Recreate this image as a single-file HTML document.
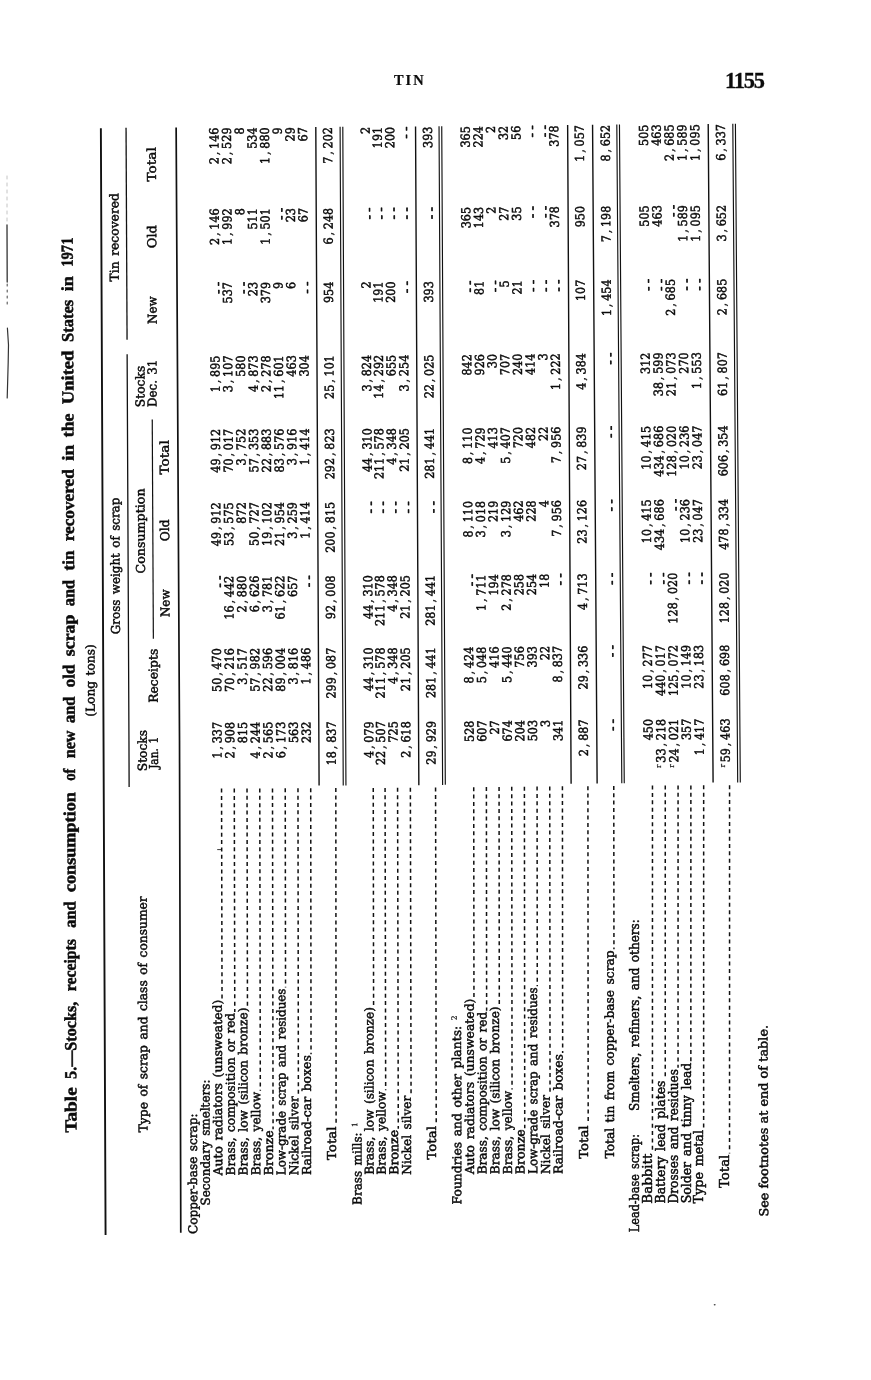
<!DOCTYPE html>
<html lang="en">
<head>
<meta charset="utf-8">
<title>Table 5. Stocks, receipts and consumption of new and old scrap and tin recovered in the United States in 1971</title>
<style>
html,body{margin:0;padding:0;background:#fff;}
body{width:871px;height:1380px;overflow:hidden;}
svg{display:block;position:absolute;left:0;top:0;}
svg{font-family:"Liberation Serif","DejaVu Serif",serif;}
text{white-space:pre;}
.b{font-family:"DejaVu Serif","Liberation Serif",serif;}
.b{font-size:12.3px;fill:#0b0b0b;stroke:#0b0b0b;stroke-width:0.48px;stroke-linejoin:round;}
.l{letter-spacing:0.0px;word-spacing:1.6px;}
.n{font-size:12.4px;stroke-width:0.5px;text-anchor:end;}
.d{font-family:"Liberation Serif",serif;font-size:12.5px;letter-spacing:3.55px;text-anchor:end;stroke-width:0.7px;stroke:#0b0b0b;}
.sup{font-size:7.5px;letter-spacing:0;stroke-width:0.2px;}
.c{stroke-width:0.35px;}
.ttl{font-weight:bold;font-size:16.9px;fill:#0b0b0b;stroke:#0b0b0b;stroke-width:0.5px;}
.ft{font-weight:bold;font-size:13px;fill:#0b0b0b;stroke:#0b0b0b;stroke-width:0.15px;}
.rl{stroke:#111;fill:none;}
.ld{stroke:#111;stroke-width:1.5px;stroke-dasharray:4 3.35;fill:none;}
.hd1{font-weight:bold;font-size:14.4px;letter-spacing:2.0px;fill:#0b0b0b;stroke:#0b0b0b;stroke-width:0.2px;}
.hd2{font-weight:bold;font-size:22.4px;letter-spacing:-1.2px;fill:#0b0b0b;stroke:#0b0b0b;stroke-width:0.3px;}
</style>
</head>
<body>
<svg width="871" height="1380" viewBox="0 0 871 1380">
<rect x="0" y="0" width="871" height="1380" fill="#ffffff"/>
<g fill="none" stroke-linecap="round">
<path d="M7,176 L7,224" stroke="#b5b5b5" stroke-width="0.8" stroke-dasharray="3 4"/>
<path d="M7,225 L7.2,282" stroke="#333" stroke-width="1.3"/>
<path d="M7.2,284 L7.2,305" stroke="#555" stroke-width="1.1" stroke-dasharray="2 4"/>
<path d="M7.4,328 Q9.2,345 8.2,362 L7.2,398" stroke="#333" stroke-width="1.2"/>
<path d="M217.6,849.6 L221.4,849.6" stroke="#222" stroke-width="0.9"/>
</g>
<ellipse cx="714.7" cy="1304.7" rx="1.0" ry="0.8" fill="#444"/>
<text class="hd1" x="394.0" y="85.3">TIN</text>
<text class="hd2" x="725.0" y="87.8">1155</text>
<g transform="translate(0,1381.45) rotate(-90.244)">
<g class="ttl">
<text x="248.6" y="77.6" textLength="45.2" lengthAdjust="spacingAndGlyphs">Table</text>
<text x="302.2" y="77.6" textLength="77.2" lengthAdjust="spacingAndGlyphs">5.—Stocks,</text>
<text x="389.8" y="77.6" textLength="52.3" lengthAdjust="spacingAndGlyphs">receipts</text>
<text x="453.4" y="77.6" textLength="26.3" lengthAdjust="spacingAndGlyphs">and</text>
<text x="489.1" y="77.6" textLength="99.9" lengthAdjust="spacingAndGlyphs">consumption</text>
<text x="600.3" y="77.6" textLength="12.2" lengthAdjust="spacingAndGlyphs">of</text>
<text x="622.9" y="77.6" textLength="27.7" lengthAdjust="spacingAndGlyphs">new</text>
<text x="658.2" y="77.6" textLength="26.3" lengthAdjust="spacingAndGlyphs">and</text>
<text x="693.9" y="77.6" textLength="22.6" lengthAdjust="spacingAndGlyphs">old</text>
<text x="725.0" y="77.6" textLength="41.4" lengthAdjust="spacingAndGlyphs">scrap</text>
<text x="774.9" y="77.6" textLength="26.4" lengthAdjust="spacingAndGlyphs">and</text>
<text x="810.7" y="77.6" textLength="19.8" lengthAdjust="spacingAndGlyphs">tin</text>
<text x="839.9" y="77.6" textLength="72.0" lengthAdjust="spacingAndGlyphs">recovered</text>
<text x="920.4" y="77.6" textLength="16.0" lengthAdjust="spacingAndGlyphs">in</text>
<text x="943.9" y="77.6" textLength="23.6" lengthAdjust="spacingAndGlyphs">the</text>
<text x="976.9" y="77.6" textLength="53.7" lengthAdjust="spacingAndGlyphs">United</text>
<text x="1039.1" y="77.6" textLength="42.3" lengthAdjust="spacingAndGlyphs">States</text>
<text x="1089.9" y="77.6" textLength="15.1" lengthAdjust="spacingAndGlyphs">in</text>
<text x="1114.4" y="77.6" textLength="29.2" lengthAdjust="spacingAndGlyphs">1971</text>
</g>
<text class="b l" x="664.3" y="97.5" textLength="72.5" lengthAdjust="spacingAndGlyphs">(Long tons)</text>
<polyline class="rl" stroke-width="1.90" points="146.0,106.19 200.0,106.20 640.0,106.26 1252.7,106.20"/>
<polyline class="rl" stroke-width="1.30" points="594.0,131.66 640.0,131.69 1026.6,131.50"/>
<polyline class="rl" stroke-width="1.30" points="1041.1,131.50 1253.2,131.39"/>
<polyline class="rl" stroke-width="1.20" points="742.0,156.53 961.3,156.34"/>
<polyline class="rl" stroke-width="1.70" points="148.0,181.41 200.0,181.50 640.0,182.25 1253.2,181.48"/>
<polyline class="rl" stroke-width="1.40" points="594.5,321.63 640.0,321.60 1253.2,321.14"/>
<polyline class="rl" stroke-width="1.15" points="594.5,345.77 640.0,345.75 1253.2,345.44"/>
<polyline class="rl" stroke-width="1.15" points="594.5,348.47 640.0,348.45 1253.2,348.14"/>
<polyline class="rl" stroke-width="1.40" points="594.5,421.38 640.0,421.35 1253.2,420.89"/>
<polyline class="rl" stroke-width="1.15" points="594.6,445.15 640.1,445.10 1253.3,444.38"/>
<polyline class="rl" stroke-width="1.15" points="594.7,447.85 640.2,447.80 1253.4,447.08"/>
<polyline class="rl" stroke-width="1.40" points="595.3,573.65 640.9,573.60 1254.0,572.99"/>
<polyline class="rl" stroke-width="1.40" points="595.5,599.67 641.0,599.55 1254.2,597.91"/>
<polyline class="rl" stroke-width="1.15" points="595.6,624.35 641.1,624.20 1254.3,622.16"/>
<polyline class="rl" stroke-width="1.15" points="595.6,626.79 641.1,626.65 1254.3,624.81"/>
<polyline class="rl" stroke-width="1.40" points="595.8,715.64 641.3,715.50 1254.5,713.56"/>
<polyline class="rl" stroke-width="1.15" points="595.8,740.24 641.3,740.10 1254.5,738.16"/>
<polyline class="rl" stroke-width="1.15" points="595.8,742.84 641.3,742.70 1254.5,740.76"/>
<text class="b l" transform="translate(248.50,148.55) rotate(0.058)" textLength="236.0" lengthAdjust="spacingAndGlyphs">Type of scrap and class of consumer</text>
<text class="b l" transform="translate(746.70,123.07) rotate(-0.020)" textLength="136.6" lengthAdjust="spacingAndGlyphs">Gross weight of scrap</text>
<text class="b l" transform="translate(1099.50,123.45) rotate(-0.021)" textLength="88.4" lengthAdjust="spacingAndGlyphs">Tin recovered</text>
<text class="b l" transform="translate(609.60,149.43) rotate(0.033)" textLength="41.3" lengthAdjust="spacingAndGlyphs">Stocks</text>
<text class="b l" transform="translate(611.90,160.52) rotate(0.047)" textLength="32.2" lengthAdjust="spacingAndGlyphs">Jan. 1</text>
<text class="b l" transform="translate(678.00,160.62) rotate(-0.053)" textLength="54.0" lengthAdjust="spacingAndGlyphs">Receipts</text>
<text class="b l" transform="translate(807.40,148.32) rotate(-0.042)" textLength="85.0" lengthAdjust="spacingAndGlyphs">Consumption</text>
<text class="b l" transform="translate(763.70,172.83) rotate(-0.063)" textLength="27.6" lengthAdjust="spacingAndGlyphs">New</text>
<text class="b l" transform="translate(839.50,172.74) rotate(-0.063)" textLength="21.8" lengthAdjust="spacingAndGlyphs">Old</text>
<text class="b l" transform="translate(906.10,172.67) rotate(-0.063)" textLength="34.4" lengthAdjust="spacingAndGlyphs">Total</text>
<text class="b l" transform="translate(973.70,148.70) rotate(-0.043)" textLength="41.3" lengthAdjust="spacingAndGlyphs">Stocks</text>
<text class="b l" transform="translate(973.70,160.75) rotate(-0.053)" textLength="47.5" lengthAdjust="spacingAndGlyphs">Dec. 31</text>
<text class="b l" transform="translate(1056.80,161.17) rotate(-0.054)" textLength="27.6" lengthAdjust="spacingAndGlyphs">New</text>
<text class="b l" transform="translate(1132.60,161.10) rotate(-0.054)" textLength="23.0" lengthAdjust="spacingAndGlyphs">Old</text>
<text class="b l" transform="translate(1199.20,161.04) rotate(-0.054)" textLength="34.4" lengthAdjust="spacingAndGlyphs">Total</text>
<g class="b">
<text class="l" transform="translate(146.60,197.86) rotate(0.103)" textLength="120.6" lengthAdjust="spacingAndGlyphs">Copper-base scrap:</text>
<text class="l" transform="translate(175.00,210.49) rotate(0.107)" textLength="126.0" lengthAdjust="spacingAndGlyphs">Secondary smelters:</text>
<text class="l" transform="translate(205.00,223.12) rotate(0.111)" textLength="175.8" lengthAdjust="spacingAndGlyphs">Auto radiators (unsweated)</text>
<line class="ld" x1="381.76" y1="223.66" x2="591.90" y2="224.07" stroke-dashoffset="7.01"/>
<text class="n" transform="translate(658.60,224.16) rotate(0.017) scale(0.907,1)">1<tspan class="c" dx="2.0">,</tspan><tspan dx="3.0">337</tspan></text>
<text class="n" transform="translate(732.40,224.09) rotate(-0.048) scale(0.907,1)">50<tspan class="c" dx="2.0">,</tspan><tspan dx="3.0">470</tspan></text>
<text class="d" transform="translate(808.45,226.53) rotate(-0.049)">--</text>
<text class="n" transform="translate(878.20,223.96) rotate(-0.048) scale(0.907,1)">49<tspan class="c" dx="2.0">,</tspan><tspan dx="3.0">912</tspan></text>
<text class="n" transform="translate(951.70,223.90) rotate(-0.048) scale(0.907,1)">49<tspan class="c" dx="2.0">,</tspan><tspan dx="3.0">912</tspan></text>
<text class="n" transform="translate(1025.00,223.84) rotate(-0.048) scale(0.907,1)">1<tspan class="c" dx="2.0">,</tspan><tspan dx="3.0">895</tspan></text>
<text class="d" transform="translate(1102.15,226.28) rotate(-0.049)">--</text>
<text class="n" transform="translate(1172.20,223.72) rotate(-0.048) scale(0.907,1)">2<tspan class="c" dx="2.0">,</tspan><tspan dx="3.0">146</tspan></text>
<text class="n" transform="translate(1253.00,223.65) rotate(-0.048) scale(0.907,1)">2<tspan class="c" dx="2.0">,</tspan><tspan dx="3.0">146</tspan></text>
<text class="l" transform="translate(205.00,235.79) rotate(0.120)" textLength="162.5" lengthAdjust="spacingAndGlyphs">Brass, composition or red</text>
<line class="ld" x1="368.52" y1="236.34" x2="591.90" y2="236.81" stroke-dashoffset="1.12"/>
<text class="n" transform="translate(658.60,236.91) rotate(0.017) scale(0.907,1)">2<tspan class="c" dx="2.0">,</tspan><tspan dx="3.0">908</tspan></text>
<text class="n" transform="translate(732.40,236.82) rotate(-0.054) scale(0.907,1)">70<tspan class="c" dx="2.0">,</tspan><tspan dx="3.0">216</tspan></text>
<text class="n" transform="translate(804.70,236.75) rotate(-0.054) scale(0.907,1)">16<tspan class="c" dx="2.0">,</tspan><tspan dx="3.0">442</tspan></text>
<text class="n" transform="translate(878.20,236.68) rotate(-0.054) scale(0.907,1)">53<tspan class="c" dx="2.0">,</tspan><tspan dx="3.0">575</tspan></text>
<text class="n" transform="translate(951.70,236.61) rotate(-0.054) scale(0.907,1)">70<tspan class="c" dx="2.0">,</tspan><tspan dx="3.0">017</tspan></text>
<text class="n" transform="translate(1025.00,236.54) rotate(-0.054) scale(0.907,1)">3<tspan class="c" dx="2.0">,</tspan><tspan dx="3.0">107</tspan></text>
<text class="n" transform="translate(1098.40,236.47) rotate(-0.054) scale(0.907,1)">537</text>
<text class="n" transform="translate(1172.20,236.40) rotate(-0.054) scale(0.907,1)">1<tspan class="c" dx="2.0">,</tspan><tspan dx="3.0">992</tspan></text>
<text class="n" transform="translate(1253.00,236.33) rotate(-0.054) scale(0.907,1)">2<tspan class="c" dx="2.0">,</tspan><tspan dx="3.0">529</tspan></text>
<text class="l" transform="translate(205.00,248.47) rotate(0.130)" textLength="167.8" lengthAdjust="spacingAndGlyphs">Brass, low (silicon bronze)</text>
<line class="ld" x1="373.80" y1="249.05" x2="591.90" y2="249.55" stroke-dashoffset="6.40"/>
<text class="n" transform="translate(658.60,249.66) rotate(0.017) scale(0.907,1)">815</text>
<text class="n" transform="translate(732.40,249.56) rotate(-0.061) scale(0.907,1)">3<tspan class="c" dx="2.0">,</tspan><tspan dx="3.0">517</tspan></text>
<text class="n" transform="translate(804.70,249.48) rotate(-0.061) scale(0.907,1)">2<tspan class="c" dx="2.0">,</tspan><tspan dx="3.0">880</tspan></text>
<text class="n" transform="translate(878.20,249.40) rotate(-0.061) scale(0.907,1)">872</text>
<text class="n" transform="translate(951.70,249.33) rotate(-0.061) scale(0.907,1)">3<tspan class="c" dx="2.0">,</tspan><tspan dx="3.0">752</tspan></text>
<text class="n" transform="translate(1025.00,249.25) rotate(-0.061) scale(0.907,1)">580</text>
<text class="d" transform="translate(1102.15,251.67) rotate(-0.062)">--</text>
<text class="n" transform="translate(1172.20,249.09) rotate(-0.061) scale(0.907,1)">8</text>
<text class="n" transform="translate(1253.00,249.01) rotate(-0.061) scale(0.907,1)">8</text>
<text class="l" transform="translate(205.00,261.15) rotate(0.139)" textLength="83.5" lengthAdjust="spacingAndGlyphs">Brass, yellow</text>
<line class="ld" x1="289.54" y1="261.55" x2="591.90" y2="262.29" stroke-dashoffset="2.99"/>
<text class="n" transform="translate(658.60,262.40) rotate(0.018) scale(0.907,1)">4<tspan class="c" dx="2.0">,</tspan><tspan dx="3.0">244</tspan></text>
<text class="n" transform="translate(732.40,262.30) rotate(-0.067) scale(0.907,1)">57<tspan class="c" dx="2.0">,</tspan><tspan dx="3.0">982</tspan></text>
<text class="n" transform="translate(804.70,262.21) rotate(-0.067) scale(0.907,1)">6<tspan class="c" dx="2.0">,</tspan><tspan dx="3.0">626</tspan></text>
<text class="n" transform="translate(878.20,262.12) rotate(-0.067) scale(0.907,1)">50<tspan class="c" dx="2.0">,</tspan><tspan dx="3.0">727</tspan></text>
<text class="n" transform="translate(951.70,262.04) rotate(-0.067) scale(0.907,1)">57<tspan class="c" dx="2.0">,</tspan><tspan dx="3.0">353</tspan></text>
<text class="n" transform="translate(1025.00,261.95) rotate(-0.067) scale(0.907,1)">4<tspan class="c" dx="2.0">,</tspan><tspan dx="3.0">873</tspan></text>
<text class="n" transform="translate(1098.40,261.87) rotate(-0.067) scale(0.907,1)">23</text>
<text class="n" transform="translate(1172.20,261.78) rotate(-0.067) scale(0.907,1)">511</text>
<text class="n" transform="translate(1253.00,261.68) rotate(-0.067) scale(0.907,1)">534</text>
<text class="l" transform="translate(205.00,273.82) rotate(0.149)" textLength="44.9" lengthAdjust="spacingAndGlyphs">Bronze</text>
<line class="ld" x1="250.94" y1="274.14" x2="591.90" y2="275.02" stroke-dashoffset="1.14"/>
<text class="n" transform="translate(658.60,275.15) rotate(0.018) scale(0.907,1)">2<tspan class="c" dx="2.0">,</tspan><tspan dx="3.0">565</tspan></text>
<text class="n" transform="translate(732.40,275.03) rotate(-0.074) scale(0.907,1)">22<tspan class="c" dx="2.0">,</tspan><tspan dx="3.0">596</tspan></text>
<text class="n" transform="translate(804.70,274.94) rotate(-0.074) scale(0.907,1)">3<tspan class="c" dx="2.0">,</tspan><tspan dx="3.0">781</tspan></text>
<text class="n" transform="translate(878.20,274.84) rotate(-0.074) scale(0.907,1)">19<tspan class="c" dx="2.0">,</tspan><tspan dx="3.0">102</tspan></text>
<text class="n" transform="translate(951.70,274.75) rotate(-0.074) scale(0.907,1)">22<tspan class="c" dx="2.0">,</tspan><tspan dx="3.0">883</tspan></text>
<text class="n" transform="translate(1025.00,274.66) rotate(-0.074) scale(0.907,1)">2<tspan class="c" dx="2.0">,</tspan><tspan dx="3.0">278</tspan></text>
<text class="n" transform="translate(1098.40,274.56) rotate(-0.074) scale(0.907,1)">379</text>
<text class="n" transform="translate(1172.20,274.47) rotate(-0.074) scale(0.907,1)">1<tspan class="c" dx="2.0">,</tspan><tspan dx="3.0">501</tspan></text>
<text class="n" transform="translate(1253.00,274.36) rotate(-0.074) scale(0.907,1)">1<tspan class="c" dx="2.0">,</tspan><tspan dx="3.0">880</tspan></text>
<text class="l" transform="translate(205.00,286.50) rotate(0.158)" textLength="186.7" lengthAdjust="spacingAndGlyphs">Low-grade scrap and residues</text>
<line class="ld" x1="392.66" y1="287.21" x2="591.90" y2="287.76" stroke-dashoffset="3.21"/>
<text class="n" transform="translate(658.60,287.90) rotate(0.018) scale(0.907,1)">6<tspan class="c" dx="2.0">,</tspan><tspan dx="3.0">173</tspan></text>
<text class="n" transform="translate(732.40,287.77) rotate(-0.080) scale(0.907,1)">89<tspan class="c" dx="2.0">,</tspan><tspan dx="3.0">004</tspan></text>
<text class="n" transform="translate(804.70,287.67) rotate(-0.080) scale(0.907,1)">61<tspan class="c" dx="2.0">,</tspan><tspan dx="3.0">622</tspan></text>
<text class="n" transform="translate(878.20,287.56) rotate(-0.080) scale(0.907,1)">21<tspan class="c" dx="2.0">,</tspan><tspan dx="3.0">954</tspan></text>
<text class="n" transform="translate(951.70,287.46) rotate(-0.080) scale(0.907,1)">83<tspan class="c" dx="2.0">,</tspan><tspan dx="3.0">576</tspan></text>
<text class="n" transform="translate(1025.00,287.36) rotate(-0.080) scale(0.907,1)">11<tspan class="c" dx="2.0">,</tspan><tspan dx="3.0">601</tspan></text>
<text class="n" transform="translate(1098.40,287.26) rotate(-0.080) scale(0.907,1)">9</text>
<text class="d" transform="translate(1175.95,289.65) rotate(-0.081)">--</text>
<text class="n" transform="translate(1253.00,287.04) rotate(-0.080) scale(0.907,1)">9</text>
<text class="l" transform="translate(205.00,299.17) rotate(0.168)" textLength="79.0" lengthAdjust="spacingAndGlyphs">Nickel silver</text>
<line class="ld" x1="285.00" y1="299.60" x2="591.90" y2="300.50" stroke-dashoffset="5.80"/>
<text class="n" transform="translate(658.60,300.64) rotate(0.018) scale(0.907,1)">563</text>
<text class="n" transform="translate(732.40,300.50) rotate(-0.086) scale(0.907,1)">3<tspan class="c" dx="2.0">,</tspan><tspan dx="3.0">816</tspan></text>
<text class="n" transform="translate(804.70,300.40) rotate(-0.086) scale(0.907,1)">657</text>
<text class="n" transform="translate(878.20,300.29) rotate(-0.086) scale(0.907,1)">3<tspan class="c" dx="2.0">,</tspan><tspan dx="3.0">259</tspan></text>
<text class="n" transform="translate(951.70,300.17) rotate(-0.086) scale(0.907,1)">3<tspan class="c" dx="2.0">,</tspan><tspan dx="3.0">916</tspan></text>
<text class="n" transform="translate(1025.00,300.06) rotate(-0.086) scale(0.907,1)">463</text>
<text class="n" transform="translate(1098.40,299.95) rotate(-0.086) scale(0.907,1)">6</text>
<text class="n" transform="translate(1172.20,299.84) rotate(-0.086) scale(0.907,1)">23</text>
<text class="n" transform="translate(1253.00,299.72) rotate(-0.086) scale(0.907,1)">29</text>
<text class="l" transform="translate(205.00,311.85) rotate(0.177)" textLength="119.9" lengthAdjust="spacingAndGlyphs">Railroad-car boxes</text>
<line class="ld" x1="325.89" y1="312.42" x2="591.90" y2="313.24" stroke-dashoffset="2.59"/>
<text class="n" transform="translate(658.60,313.39) rotate(0.018) scale(0.907,1)">232</text>
<text class="n" transform="translate(732.40,313.24) rotate(-0.093) scale(0.907,1)">1<tspan class="c" dx="2.0">,</tspan><tspan dx="3.0">486</tspan></text>
<text class="d" transform="translate(808.45,315.63) rotate(-0.094)">--</text>
<text class="n" transform="translate(878.20,313.01) rotate(-0.093) scale(0.907,1)">1<tspan class="c" dx="2.0">,</tspan><tspan dx="3.0">414</tspan></text>
<text class="n" transform="translate(951.70,312.89) rotate(-0.093) scale(0.907,1)">1<tspan class="c" dx="2.0">,</tspan><tspan dx="3.0">414</tspan></text>
<text class="n" transform="translate(1025.00,312.77) rotate(-0.093) scale(0.907,1)">304</text>
<text class="d" transform="translate(1102.15,315.15) rotate(-0.094)">--</text>
<text class="n" transform="translate(1172.20,312.53) rotate(-0.093) scale(0.907,1)">67</text>
<text class="n" transform="translate(1253.00,312.40) rotate(-0.093) scale(0.907,1)">67</text>
<text class="l" transform="translate(220.00,336.87) rotate(0.195)" textLength="33.5" lengthAdjust="spacingAndGlyphs">Total</text>
<line class="ld" x1="254.45" y1="337.19" x2="591.90" y2="338.34" stroke-dashoffset="4.65"/>
<text class="n" transform="translate(658.60,338.50) rotate(0.018) scale(0.907,1)">18<tspan class="c" dx="2.0">,</tspan><tspan dx="3.0">837</tspan></text>
<text class="n" transform="translate(732.40,338.33) rotate(-0.105) scale(0.907,1)">299<tspan class="c" dx="2.0">,</tspan><tspan dx="3.0">087</tspan></text>
<text class="n" transform="translate(804.70,338.20) rotate(-0.105) scale(0.907,1)">92<tspan class="c" dx="2.0">,</tspan><tspan dx="3.0">008</tspan></text>
<text class="n" transform="translate(878.20,338.06) rotate(-0.105) scale(0.907,1)">200<tspan class="c" dx="2.0">,</tspan><tspan dx="3.0">815</tspan></text>
<text class="n" transform="translate(951.70,337.93) rotate(-0.105) scale(0.907,1)">292<tspan class="c" dx="2.0">,</tspan><tspan dx="3.0">823</tspan></text>
<text class="n" transform="translate(1025.00,337.79) rotate(-0.105) scale(0.907,1)">25<tspan class="c" dx="2.0">,</tspan><tspan dx="3.0">101</tspan></text>
<text class="n" transform="translate(1098.40,337.66) rotate(-0.105) scale(0.907,1)">954</text>
<text class="n" transform="translate(1172.20,337.52) rotate(-0.105) scale(0.907,1)">6<tspan class="c" dx="2.0">,</tspan><tspan dx="3.0">248</tspan></text>
<text class="n" transform="translate(1253.00,337.38) rotate(-0.105) scale(0.907,1)">7<tspan class="c" dx="2.0">,</tspan><tspan dx="3.0">202</tspan></text>
<text class="l" transform="translate(175.00,362.20) rotate(0.175)" textLength="82.6" lengthAdjust="spacingAndGlyphs">Brass mills: <tspan class="sup" dy="-4.2">1</tspan></text>
<text class="l" transform="translate(205.00,374.51) rotate(0.158)" textLength="167.8" lengthAdjust="spacingAndGlyphs">Brass, low (silicon bronze)</text>
<line class="ld" x1="373.80" y1="375.18" x2="591.90" y2="375.78" stroke-dashoffset="6.40"/>
<text class="n" transform="translate(658.60,375.91) rotate(0.013) scale(0.907,1)">4<tspan class="c" dx="2.0">,</tspan><tspan dx="3.0">079</tspan></text>
<text class="n" transform="translate(732.40,375.77) rotate(-0.087) scale(0.907,1)">44<tspan class="c" dx="2.0">,</tspan><tspan dx="3.0">310</tspan></text>
<text class="n" transform="translate(804.70,375.66) rotate(-0.087) scale(0.907,1)">44<tspan class="c" dx="2.0">,</tspan><tspan dx="3.0">310</tspan></text>
<text class="d" transform="translate(881.95,378.02) rotate(-0.083)">--</text>
<text class="n" transform="translate(951.70,375.44) rotate(-0.087) scale(0.907,1)">44<tspan class="c" dx="2.0">,</tspan><tspan dx="3.0">310</tspan></text>
<text class="n" transform="translate(1025.00,375.33) rotate(-0.087) scale(0.907,1)">3<tspan class="c" dx="2.0">,</tspan><tspan dx="3.0">824</tspan></text>
<text class="n" transform="translate(1098.40,375.22) rotate(-0.087) scale(0.907,1)">2</text>
<text class="d" transform="translate(1175.95,377.59) rotate(-0.083)">--</text>
<text class="n" transform="translate(1253.00,374.98) rotate(-0.087) scale(0.907,1)">2</text>
<text class="l" transform="translate(205.00,386.51) rotate(0.131)" textLength="83.5" lengthAdjust="spacingAndGlyphs">Brass, yellow</text>
<line class="ld" x1="289.54" y1="386.90" x2="591.90" y2="387.60" stroke-dashoffset="2.99"/>
<text class="n" transform="translate(658.60,387.70) rotate(0.014) scale(0.907,1)">22<tspan class="c" dx="2.0">,</tspan><tspan dx="3.0">507</tspan></text>
<text class="n" transform="translate(732.40,387.59) rotate(-0.067) scale(0.907,1)">211<tspan class="c" dx="2.0">,</tspan><tspan dx="3.0">578</tspan></text>
<text class="n" transform="translate(804.70,387.51) rotate(-0.067) scale(0.907,1)">211<tspan class="c" dx="2.0">,</tspan><tspan dx="3.0">578</tspan></text>
<text class="d" transform="translate(881.95,389.92) rotate(-0.067)">--</text>
<text class="n" transform="translate(951.70,387.34) rotate(-0.067) scale(0.907,1)">211<tspan class="c" dx="2.0">,</tspan><tspan dx="3.0">578</tspan></text>
<text class="n" transform="translate(1025.00,387.25) rotate(-0.067) scale(0.907,1)">14<tspan class="c" dx="2.0">,</tspan><tspan dx="3.0">292</tspan></text>
<text class="n" transform="translate(1098.40,387.17) rotate(-0.067) scale(0.907,1)">191</text>
<text class="d" transform="translate(1175.95,389.57) rotate(-0.067)">--</text>
<text class="n" transform="translate(1253.00,386.98) rotate(-0.067) scale(0.907,1)">191</text>
<text class="l" transform="translate(205.00,399.06) rotate(0.124)" textLength="44.9" lengthAdjust="spacingAndGlyphs">Bronze</text>
<line class="ld" x1="250.94" y1="399.36" x2="591.90" y2="400.10" stroke-dashoffset="1.14"/>
<text class="n" transform="translate(658.60,400.20) rotate(0.011) scale(0.907,1)">725</text>
<text class="n" transform="translate(732.40,400.09) rotate(-0.067) scale(0.907,1)">4<tspan class="c" dx="2.0">,</tspan><tspan dx="3.0">348</tspan></text>
<text class="n" transform="translate(804.70,400.01) rotate(-0.067) scale(0.907,1)">4<tspan class="c" dx="2.0">,</tspan><tspan dx="3.0">348</tspan></text>
<text class="d" transform="translate(881.95,402.42) rotate(-0.067)">--</text>
<text class="n" transform="translate(951.70,399.84) rotate(-0.067) scale(0.907,1)">4<tspan class="c" dx="2.0">,</tspan><tspan dx="3.0">348</tspan></text>
<text class="n" transform="translate(1025.00,399.75) rotate(-0.067) scale(0.907,1)">655</text>
<text class="n" transform="translate(1098.40,399.67) rotate(-0.067) scale(0.907,1)">200</text>
<text class="d" transform="translate(1175.95,402.07) rotate(-0.067)">--</text>
<text class="n" transform="translate(1253.00,399.48) rotate(-0.067) scale(0.907,1)">200</text>
<text class="l" transform="translate(205.00,411.91) rotate(0.117)" textLength="79.0" lengthAdjust="spacingAndGlyphs">Nickel silver</text>
<line class="ld" x1="285.00" y1="412.27" x2="591.90" y2="412.90" stroke-dashoffset="5.80"/>
<text class="n" transform="translate(658.60,413.00) rotate(0.009) scale(0.907,1)">2<tspan class="c" dx="2.0">,</tspan><tspan dx="3.0">618</tspan></text>
<text class="n" transform="translate(732.40,412.89) rotate(-0.067) scale(0.907,1)">21<tspan class="c" dx="2.0">,</tspan><tspan dx="3.0">205</tspan></text>
<text class="n" transform="translate(804.70,412.81) rotate(-0.067) scale(0.907,1)">21<tspan class="c" dx="2.0">,</tspan><tspan dx="3.0">205</tspan></text>
<text class="d" transform="translate(881.95,415.22) rotate(-0.068)">--</text>
<text class="n" transform="translate(951.70,412.64) rotate(-0.067) scale(0.907,1)">21<tspan class="c" dx="2.0">,</tspan><tspan dx="3.0">205</tspan></text>
<text class="n" transform="translate(1025.00,412.55) rotate(-0.067) scale(0.907,1)">3<tspan class="c" dx="2.0">,</tspan><tspan dx="3.0">254</tspan></text>
<text class="d" transform="translate(1102.15,414.96) rotate(-0.068)">--</text>
<text class="d" transform="translate(1175.95,414.88) rotate(-0.068)">--</text>
<text class="d" transform="translate(1256.75,414.78) rotate(-0.068)">--</text>
<text class="l" transform="translate(220.01,437.05) rotate(0.131)" textLength="33.5" lengthAdjust="spacingAndGlyphs">Total</text>
<line class="ld" x1="254.47" y1="437.32" x2="592.00" y2="438.09" stroke-dashoffset="4.57"/>
<text class="n" transform="translate(658.70,438.20) rotate(0.008) scale(0.907,1)">29<tspan class="c" dx="2.0">,</tspan><tspan dx="3.0">929</tspan></text>
<text class="n" transform="translate(732.50,438.08) rotate(-0.077) scale(0.907,1)">281<tspan class="c" dx="2.0">,</tspan><tspan dx="3.0">441</tspan></text>
<text class="n" transform="translate(804.80,437.98) rotate(-0.077) scale(0.907,1)">281<tspan class="c" dx="2.0">,</tspan><tspan dx="3.0">441</tspan></text>
<text class="d" transform="translate(882.07,440.40) rotate(-0.080)">--</text>
<text class="n" transform="translate(951.80,437.79) rotate(-0.077) scale(0.907,1)">281<tspan class="c" dx="2.0">,</tspan><tspan dx="3.0">441</tspan></text>
<text class="n" transform="translate(1025.10,437.69) rotate(-0.077) scale(0.907,1)">22<tspan class="c" dx="2.0">,</tspan><tspan dx="3.0">025</tspan></text>
<text class="n" transform="translate(1098.50,437.59) rotate(-0.077) scale(0.907,1)">393</text>
<text class="d" transform="translate(1176.07,439.99) rotate(-0.080)">--</text>
<text class="n" transform="translate(1253.10,437.38) rotate(-0.077) scale(0.907,1)">393</text>
<text class="l" transform="translate(175.04,462.05) rotate(0.168)" textLength="188.9" lengthAdjust="spacingAndGlyphs">Foundries and other plants: <tspan class="sup" dy="-4.2">2</tspan></text>
<text class="l" transform="translate(205.07,474.82) rotate(0.183)" textLength="175.8" lengthAdjust="spacingAndGlyphs">Auto radiators (unsweated)</text>
<line class="ld" x1="381.91" y1="475.58" x2="592.21" y2="476.25" stroke-dashoffset="6.85"/>
<text class="n" transform="translate(658.92,476.40) rotate(0.001) scale(0.907,1)">528</text>
<text class="n" transform="translate(732.72,476.20) rotate(-0.125) scale(0.907,1)">8<tspan class="c" dx="2.0">,</tspan><tspan dx="3.0">424</tspan></text>
<text class="d" transform="translate(808.79,478.54) rotate(-0.125)">--</text>
<text class="n" transform="translate(878.52,475.89) rotate(-0.125) scale(0.907,1)">8<tspan class="c" dx="2.0">,</tspan><tspan dx="3.0">110</tspan></text>
<text class="n" transform="translate(952.02,475.73) rotate(-0.125) scale(0.907,1)">8<tspan class="c" dx="2.0">,</tspan><tspan dx="3.0">110</tspan></text>
<text class="n" transform="translate(1025.32,475.57) rotate(-0.125) scale(0.907,1)">842</text>
<text class="d" transform="translate(1102.49,477.90) rotate(-0.125)">--</text>
<text class="n" transform="translate(1172.52,475.25) rotate(-0.125) scale(0.907,1)">365</text>
<text class="n" transform="translate(1253.32,475.07) rotate(-0.125) scale(0.907,1)">365</text>
<text class="l" transform="translate(205.08,487.48) rotate(0.184)" textLength="162.5" lengthAdjust="spacingAndGlyphs">Brass, composition or red</text>
<line class="ld" x1="368.69" y1="488.20" x2="592.29" y2="488.92" stroke-dashoffset="0.90"/>
<text class="n" transform="translate(659.00,489.07) rotate(0.001) scale(0.907,1)">607</text>
<text class="n" transform="translate(732.80,488.87) rotate(-0.127) scale(0.907,1)">5<tspan class="c" dx="2.0">,</tspan><tspan dx="3.0">048</tspan></text>
<text class="n" transform="translate(805.10,488.71) rotate(-0.127) scale(0.907,1)">1<tspan class="c" dx="2.0">,</tspan><tspan dx="3.0">711</tspan></text>
<text class="n" transform="translate(878.60,488.55) rotate(-0.127) scale(0.907,1)">3<tspan class="c" dx="2.0">,</tspan><tspan dx="3.0">018</tspan></text>
<text class="n" transform="translate(952.10,488.39) rotate(-0.127) scale(0.907,1)">4<tspan class="c" dx="2.0">,</tspan><tspan dx="3.0">729</tspan></text>
<text class="n" transform="translate(1025.40,488.23) rotate(-0.127) scale(0.907,1)">926</text>
<text class="n" transform="translate(1098.80,488.06) rotate(-0.127) scale(0.907,1)">81</text>
<text class="n" transform="translate(1172.60,487.90) rotate(-0.127) scale(0.907,1)">143</text>
<text class="n" transform="translate(1253.40,487.72) rotate(-0.127) scale(0.907,1)">224</text>
<text class="l" transform="translate(205.10,500.14) rotate(0.185)" textLength="167.8" lengthAdjust="spacingAndGlyphs">Brass, low (silicon bronze)</text>
<line class="ld" x1="374.00" y1="500.89" x2="592.36" y2="501.59" stroke-dashoffset="6.15"/>
<text class="n" transform="translate(659.07,501.74) scale(0.907,1)">27</text>
<text class="n" transform="translate(732.87,501.54) rotate(-0.129) scale(0.907,1)">416</text>
<text class="n" transform="translate(805.17,501.38) rotate(-0.129) scale(0.907,1)">194</text>
<text class="n" transform="translate(878.67,501.21) rotate(-0.129) scale(0.907,1)">219</text>
<text class="n" transform="translate(952.17,501.05) rotate(-0.129) scale(0.907,1)">413</text>
<text class="n" transform="translate(1025.47,500.88) rotate(-0.129) scale(0.907,1)">30</text>
<text class="d" transform="translate(1102.63,503.21) rotate(-0.129)">--</text>
<text class="n" transform="translate(1172.67,500.55) rotate(-0.129) scale(0.907,1)">2</text>
<text class="n" transform="translate(1253.47,500.37) rotate(-0.129) scale(0.907,1)">2</text>
<text class="l" transform="translate(205.06,512.80) rotate(0.187)" textLength="83.5" lengthAdjust="spacingAndGlyphs">Brass, yellow</text>
<line class="ld" x1="289.66" y1="513.28" x2="592.43" y2="514.26" stroke-dashoffset="2.58"/>
<text class="n" transform="translate(659.14,514.41) rotate(-0.001) scale(0.907,1)">674</text>
<text class="n" transform="translate(732.94,514.21) rotate(-0.131) scale(0.907,1)">5<tspan class="c" dx="2.0">,</tspan><tspan dx="3.0">440</tspan></text>
<text class="n" transform="translate(805.24,514.04) rotate(-0.131) scale(0.907,1)">2<tspan class="c" dx="2.0">,</tspan><tspan dx="3.0">278</tspan></text>
<text class="n" transform="translate(878.74,513.88) rotate(-0.131) scale(0.907,1)">3<tspan class="c" dx="2.0">,</tspan><tspan dx="3.0">129</tspan></text>
<text class="n" transform="translate(952.24,513.71) rotate(-0.131) scale(0.907,1)">5<tspan class="c" dx="2.0">,</tspan><tspan dx="3.0">407</tspan></text>
<text class="n" transform="translate(1025.54,513.54) rotate(-0.131) scale(0.907,1)">707</text>
<text class="n" transform="translate(1098.94,513.37) rotate(-0.131) scale(0.907,1)">5</text>
<text class="n" transform="translate(1172.74,513.20) rotate(-0.131) scale(0.907,1)">27</text>
<text class="n" transform="translate(1253.54,513.02) rotate(-0.131) scale(0.907,1)">32</text>
<text class="l" transform="translate(205.04,525.46) rotate(0.188)" textLength="44.9" lengthAdjust="spacingAndGlyphs">Bronze</text>
<line class="ld" x1="251.02" y1="525.81" x2="592.50" y2="526.93" stroke-dashoffset="0.61"/>
<text class="n" transform="translate(659.22,527.08) rotate(-0.001) scale(0.907,1)">204</text>
<text class="n" transform="translate(733.02,526.88) rotate(-0.133) scale(0.907,1)">756</text>
<text class="n" transform="translate(805.32,526.71) rotate(-0.133) scale(0.907,1)">258</text>
<text class="n" transform="translate(878.82,526.54) rotate(-0.133) scale(0.907,1)">462</text>
<text class="n" transform="translate(952.32,526.37) rotate(-0.133) scale(0.907,1)">720</text>
<text class="n" transform="translate(1025.62,526.20) rotate(-0.133) scale(0.907,1)">240</text>
<text class="n" transform="translate(1099.02,526.03) rotate(-0.133) scale(0.907,1)">21</text>
<text class="n" transform="translate(1172.82,525.86) rotate(-0.133) scale(0.907,1)">35</text>
<text class="n" transform="translate(1253.62,525.67) rotate(-0.133) scale(0.907,1)">56</text>
<text class="l" transform="translate(205.17,538.12) rotate(0.190)" textLength="186.7" lengthAdjust="spacingAndGlyphs">Low-grade scrap and residues</text>
<line class="ld" x1="392.99" y1="538.94" x2="592.57" y2="539.61" stroke-dashoffset="2.87"/>
<text class="n" transform="translate(659.29,539.75) rotate(-0.002) scale(0.907,1)">503</text>
<text class="n" transform="translate(733.09,539.54) rotate(-0.135) scale(0.907,1)">393</text>
<text class="n" transform="translate(805.39,539.37) rotate(-0.135) scale(0.907,1)">254</text>
<text class="n" transform="translate(878.89,539.20) rotate(-0.135) scale(0.907,1)">228</text>
<text class="n" transform="translate(952.39,539.03) rotate(-0.135) scale(0.907,1)">482</text>
<text class="n" transform="translate(1025.69,538.86) rotate(-0.135) scale(0.907,1)">414</text>
<text class="d" transform="translate(1102.85,541.18) rotate(-0.135)">--</text>
<text class="d" transform="translate(1176.65,541.00) rotate(-0.135)">--</text>
<text class="d" transform="translate(1257.45,540.81) rotate(-0.135)">--</text>
<text class="l" transform="translate(205.08,550.78) rotate(0.191)" textLength="79.0" lengthAdjust="spacingAndGlyphs">Nickel silver</text>
<line class="ld" x1="285.16" y1="551.25" x2="592.63" y2="552.28" stroke-dashoffset="5.22"/>
<text class="n" transform="translate(659.35,552.42) rotate(-0.002) scale(0.907,1)">3</text>
<text class="n" transform="translate(733.15,552.21) rotate(-0.137) scale(0.907,1)">22</text>
<text class="n" transform="translate(805.45,552.04) rotate(-0.137) scale(0.907,1)">18</text>
<text class="n" transform="translate(878.95,551.86) rotate(-0.137) scale(0.907,1)">4</text>
<text class="n" transform="translate(952.45,551.69) rotate(-0.137) scale(0.907,1)">22</text>
<text class="n" transform="translate(1025.75,551.51) rotate(-0.137) scale(0.907,1)">3</text>
<text class="d" transform="translate(1102.91,553.83) rotate(-0.137)">--</text>
<text class="d" transform="translate(1176.71,553.65) rotate(-0.137)">--</text>
<text class="d" transform="translate(1257.51,553.46) rotate(-0.137)">--</text>
<text class="l" transform="translate(205.13,563.44) rotate(0.192)" textLength="119.9" lengthAdjust="spacingAndGlyphs">Railroad-car boxes</text>
<line class="ld" x1="326.14" y1="564.05" x2="592.69" y2="564.95" stroke-dashoffset="2.05"/>
<text class="n" transform="translate(659.41,565.10) rotate(-0.003) scale(0.907,1)">341</text>
<text class="n" transform="translate(733.21,564.88) rotate(-0.139) scale(0.907,1)">8<tspan class="c" dx="2.0">,</tspan><tspan dx="3.0">837</tspan></text>
<text class="d" transform="translate(809.27,567.20) rotate(-0.139)">--</text>
<text class="n" transform="translate(879.01,564.53) rotate(-0.139) scale(0.907,1)">7<tspan class="c" dx="2.0">,</tspan><tspan dx="3.0">956</tspan></text>
<text class="n" transform="translate(952.51,564.35) rotate(-0.139) scale(0.907,1)">7<tspan class="c" dx="2.0">,</tspan><tspan dx="3.0">956</tspan></text>
<text class="n" transform="translate(1025.81,564.17) rotate(-0.139) scale(0.907,1)">1<tspan class="c" dx="2.0">,</tspan><tspan dx="3.0">222</tspan></text>
<text class="d" transform="translate(1102.97,566.49) rotate(-0.139)">--</text>
<text class="n" transform="translate(1173.01,563.81) rotate(-0.139) scale(0.907,1)">378</text>
<text class="n" transform="translate(1253.81,563.62) rotate(-0.139) scale(0.907,1)">378</text>
<text class="l" transform="translate(220.08,588.97) rotate(0.195)" textLength="33.5" lengthAdjust="spacingAndGlyphs">Total</text>
<line class="ld" x1="254.58" y1="589.28" x2="592.80" y2="590.44" stroke-dashoffset="3.88"/>
<text class="n" transform="translate(659.52,590.59) rotate(-0.004) scale(0.907,1)">2<tspan class="c" dx="2.0">,</tspan><tspan dx="3.0">887</tspan></text>
<text class="n" transform="translate(733.32,590.37) rotate(-0.143) scale(0.907,1)">29<tspan class="c" dx="2.0">,</tspan><tspan dx="3.0">336</tspan></text>
<text class="n" transform="translate(805.62,590.19) rotate(-0.143) scale(0.907,1)">4<tspan class="c" dx="2.0">,</tspan><tspan dx="3.0">713</tspan></text>
<text class="n" transform="translate(879.12,590.00) rotate(-0.143) scale(0.907,1)">23<tspan class="c" dx="2.0">,</tspan><tspan dx="3.0">126</tspan></text>
<text class="n" transform="translate(952.62,589.82) rotate(-0.143) scale(0.907,1)">27<tspan class="c" dx="2.0">,</tspan><tspan dx="3.0">839</tspan></text>
<text class="n" transform="translate(1025.92,589.64) rotate(-0.143) scale(0.907,1)">4<tspan class="c" dx="2.0">,</tspan><tspan dx="3.0">384</tspan></text>
<text class="n" transform="translate(1099.32,589.45) rotate(-0.143) scale(0.907,1)">107</text>
<text class="n" transform="translate(1173.12,589.27) rotate(-0.143) scale(0.907,1)">950</text>
<text class="n" transform="translate(1253.92,589.07) rotate(-0.143) scale(0.907,1)">1<tspan class="c" dx="2.0">,</tspan><tspan dx="3.0">057</tspan></text>
<text class="l" transform="translate(220.32,614.91) rotate(0.182)" textLength="208.1" lengthAdjust="spacingAndGlyphs">Total tin from copper-base scrap</text>
<line class="ld" x1="429.70" y1="615.78" x2="592.92" y2="616.30" stroke-dashoffset="2.48"/>
<text class="d" transform="translate(663.40,618.94) rotate(-0.085)">--</text>
<text class="d" transform="translate(737.20,618.76) rotate(-0.137)">--</text>
<text class="d" transform="translate(809.50,618.58) rotate(-0.137)">--</text>
<text class="d" transform="translate(883.00,618.41) rotate(-0.137)">--</text>
<text class="d" transform="translate(956.50,618.23) rotate(-0.137)">--</text>
<text class="d" transform="translate(1029.80,618.06) rotate(-0.137)">--</text>
<text class="n" transform="translate(1099.44,615.38) rotate(-0.134) scale(0.907,1)">1<tspan class="c" dx="2.0">,</tspan><tspan dx="3.0">454</tspan></text>
<text class="n" transform="translate(1173.24,615.21) rotate(-0.134) scale(0.907,1)">7<tspan class="c" dx="2.0">,</tspan><tspan dx="3.0">198</tspan></text>
<text class="n" transform="translate(1254.04,615.02) rotate(-0.134) scale(0.907,1)">8<tspan class="c" dx="2.0">,</tspan><tspan dx="3.0">652</tspan></text>
<text class="l" transform="translate(146.60,640.09) rotate(0.229)" textLength="98.1" lengthAdjust="spacingAndGlyphs">Lead-base scrap:</text>
<text class="l" transform="translate(267.67,640.57) rotate(0.229)" textLength="191.9" lengthAdjust="spacingAndGlyphs">Smelters, refiners, and others:</text>
<text class="l" transform="translate(175.00,652.99) rotate(0.247)" textLength="50.0" lengthAdjust="spacingAndGlyphs">Babbitt</text>
<line class="ld" x1="226.08" y1="653.41" x2="593.08" y2="655.00" stroke-dashoffset="4.50"/>
<text class="n" transform="translate(659.80,655.19) rotate(-0.006) scale(0.907,1)">450</text>
<text class="n" transform="translate(733.60,654.91) rotate(-0.181) scale(0.907,1)">10<tspan class="c" dx="2.0">,</tspan><tspan dx="3.0">277</tspan></text>
<text class="d" transform="translate(809.66,657.17) rotate(-0.181)">--</text>
<text class="n" transform="translate(879.40,654.45) rotate(-0.181) scale(0.907,1)">10<tspan class="c" dx="2.0">,</tspan><tspan dx="3.0">415</tspan></text>
<text class="n" transform="translate(952.90,654.21) rotate(-0.181) scale(0.907,1)">10<tspan class="c" dx="2.0">,</tspan><tspan dx="3.0">415</tspan></text>
<text class="n" transform="translate(1026.20,653.98) rotate(-0.181) scale(0.907,1)">312</text>
<text class="d" transform="translate(1103.36,656.24) rotate(-0.181)">--</text>
<text class="n" transform="translate(1173.40,653.51) rotate(-0.181) scale(0.907,1)">505</text>
<text class="n" transform="translate(1254.20,653.26) rotate(-0.181) scale(0.907,1)">505</text>
<text class="l" transform="translate(175.11,665.79) rotate(0.247)" textLength="123.0" lengthAdjust="spacingAndGlyphs">Battery lead plates</text>
<line class="ld" x1="299.27" y1="666.53" x2="593.09" y2="667.80" stroke-dashoffset="4.18"/>
<text class="n" transform="translate(659.82,667.99) rotate(-0.006) scale(0.907,1)">33<tspan class="c" dx="2.0">,</tspan><tspan dx="3.0">218</tspan></text>
<text class="sup" transform="translate(610.71,663.57) rotate(0.247)">r</text>
<text class="n" transform="translate(733.62,667.71) rotate(-0.181) scale(0.907,1)">440<tspan class="c" dx="2.0">,</tspan><tspan dx="3.0">017</tspan></text>
<text class="d" transform="translate(809.67,669.97) rotate(-0.181)">--</text>
<text class="n" transform="translate(879.42,667.25) rotate(-0.181) scale(0.907,1)">434<tspan class="c" dx="2.0">,</tspan><tspan dx="3.0">686</tspan></text>
<text class="n" transform="translate(952.92,667.01) rotate(-0.181) scale(0.907,1)">434<tspan class="c" dx="2.0">,</tspan><tspan dx="3.0">686</tspan></text>
<text class="n" transform="translate(1026.22,666.78) rotate(-0.181) scale(0.907,1)">38<tspan class="c" dx="2.0">,</tspan><tspan dx="3.0">599</tspan></text>
<text class="d" transform="translate(1103.37,669.04) rotate(-0.181)">--</text>
<text class="n" transform="translate(1173.42,666.31) rotate(-0.181) scale(0.907,1)">463</text>
<text class="n" transform="translate(1254.22,666.06) rotate(-0.181) scale(0.907,1)">463</text>
<text class="l" transform="translate(175.13,678.59) rotate(0.247)" textLength="134.4" lengthAdjust="spacingAndGlyphs">Drosses and residues</text>
<line class="ld" x1="310.76" y1="679.38" x2="593.11" y2="680.60" stroke-dashoffset="0.95"/>
<text class="n" transform="translate(659.83,680.79) rotate(-0.006) scale(0.907,1)">24<tspan class="c" dx="2.0">,</tspan><tspan dx="3.0">021</tspan></text>
<text class="sup" transform="translate(610.73,676.37) rotate(0.247)">r</text>
<text class="n" transform="translate(733.63,680.51) rotate(-0.181) scale(0.907,1)">125<tspan class="c" dx="2.0">,</tspan><tspan dx="3.0">072</tspan></text>
<text class="n" transform="translate(805.93,680.28) rotate(-0.181) scale(0.907,1)">128<tspan class="c" dx="2.0">,</tspan><tspan dx="3.0">020</tspan></text>
<text class="d" transform="translate(883.18,682.53) rotate(-0.181)">--</text>
<text class="n" transform="translate(952.93,679.81) rotate(-0.181) scale(0.907,1)">128<tspan class="c" dx="2.0">,</tspan><tspan dx="3.0">020</tspan></text>
<text class="n" transform="translate(1026.23,679.58) rotate(-0.181) scale(0.907,1)">21<tspan class="c" dx="2.0">,</tspan><tspan dx="3.0">073</tspan></text>
<text class="n" transform="translate(1099.63,679.35) rotate(-0.181) scale(0.907,1)">2<tspan class="c" dx="2.0">,</tspan><tspan dx="3.0">685</tspan></text>
<text class="d" transform="translate(1177.18,681.60) rotate(-0.181)">--</text>
<text class="n" transform="translate(1254.23,678.86) rotate(-0.181) scale(0.907,1)">2<tspan class="c" dx="2.0">,</tspan><tspan dx="3.0">685</tspan></text>
<text class="l" transform="translate(175.14,691.39) rotate(0.247)" textLength="140.7" lengthAdjust="spacingAndGlyphs">Solder and tinny lead</text>
<line class="ld" x1="317.08" y1="692.21" x2="593.12" y2="693.40" stroke-dashoffset="7.26"/>
<text class="n" transform="translate(659.85,693.59) rotate(-0.006) scale(0.907,1)">357</text>
<text class="n" transform="translate(733.65,693.31) rotate(-0.181) scale(0.907,1)">10<tspan class="c" dx="2.0">,</tspan><tspan dx="3.0">149</tspan></text>
<text class="d" transform="translate(809.70,695.57) rotate(-0.181)">--</text>
<text class="n" transform="translate(879.45,692.85) rotate(-0.181) scale(0.907,1)">10<tspan class="c" dx="2.0">,</tspan><tspan dx="3.0">236</tspan></text>
<text class="n" transform="translate(952.95,692.61) rotate(-0.181) scale(0.907,1)">10<tspan class="c" dx="2.0">,</tspan><tspan dx="3.0">236</tspan></text>
<text class="n" transform="translate(1026.25,692.38) rotate(-0.181) scale(0.907,1)">270</text>
<text class="d" transform="translate(1103.40,694.64) rotate(-0.181)">--</text>
<text class="n" transform="translate(1173.45,691.91) rotate(-0.181) scale(0.907,1)">1<tspan class="c" dx="2.0">,</tspan><tspan dx="3.0">589</tspan></text>
<text class="n" transform="translate(1254.25,691.66) rotate(-0.181) scale(0.907,1)">1<tspan class="c" dx="2.0">,</tspan><tspan dx="3.0">589</tspan></text>
<text class="l" transform="translate(175.04,704.19) rotate(0.247)" textLength="73.4" lengthAdjust="spacingAndGlyphs">Type metal</text>
<line class="ld" x1="249.57" y1="704.71" x2="593.13" y2="706.20" stroke-dashoffset="5.88"/>
<text class="n" transform="translate(659.86,706.39) rotate(-0.006) scale(0.907,1)">1<tspan class="c" dx="2.0">,</tspan><tspan dx="3.0">417</tspan></text>
<text class="n" transform="translate(733.66,706.11) rotate(-0.181) scale(0.907,1)">23<tspan class="c" dx="2.0">,</tspan><tspan dx="3.0">183</tspan></text>
<text class="d" transform="translate(809.71,708.37) rotate(-0.181)">--</text>
<text class="n" transform="translate(879.46,705.65) rotate(-0.181) scale(0.907,1)">23<tspan class="c" dx="2.0">,</tspan><tspan dx="3.0">047</tspan></text>
<text class="n" transform="translate(952.96,705.41) rotate(-0.181) scale(0.907,1)">23<tspan class="c" dx="2.0">,</tspan><tspan dx="3.0">047</tspan></text>
<text class="n" transform="translate(1026.26,705.18) rotate(-0.181) scale(0.907,1)">1<tspan class="c" dx="2.0">,</tspan><tspan dx="3.0">553</tspan></text>
<text class="d" transform="translate(1103.41,707.44) rotate(-0.181)">--</text>
<text class="n" transform="translate(1173.46,704.71) rotate(-0.181) scale(0.907,1)">1<tspan class="c" dx="2.0">,</tspan><tspan dx="3.0">095</tspan></text>
<text class="n" transform="translate(1254.26,704.46) rotate(-0.181) scale(0.907,1)">1<tspan class="c" dx="2.0">,</tspan><tspan dx="3.0">095</tspan></text>
<text class="l" transform="translate(190.22,730.16) rotate(0.247)" textLength="33.5" lengthAdjust="spacingAndGlyphs">Total</text>
<line class="ld" x1="224.73" y1="730.51" x2="593.16" y2="732.10" stroke-dashoffset="3.07"/>
<text class="n" transform="translate(659.89,732.29) rotate(-0.006) scale(0.907,1)">59<tspan class="c" dx="2.0">,</tspan><tspan dx="3.0">463</tspan></text>
<text class="sup" transform="translate(610.78,727.87) rotate(0.247)">r</text>
<text class="n" transform="translate(733.69,732.01) rotate(-0.181) scale(0.907,1)">608<tspan class="c" dx="2.0">,</tspan><tspan dx="3.0">698</tspan></text>
<text class="n" transform="translate(805.99,731.78) rotate(-0.181) scale(0.907,1)">128<tspan class="c" dx="2.0">,</tspan><tspan dx="3.0">020</tspan></text>
<text class="n" transform="translate(879.49,731.55) rotate(-0.181) scale(0.907,1)">478<tspan class="c" dx="2.0">,</tspan><tspan dx="3.0">334</tspan></text>
<text class="n" transform="translate(952.99,731.31) rotate(-0.181) scale(0.907,1)">606<tspan class="c" dx="2.0">,</tspan><tspan dx="3.0">354</tspan></text>
<text class="n" transform="translate(1026.29,731.08) rotate(-0.181) scale(0.907,1)">61<tspan class="c" dx="2.0">,</tspan><tspan dx="3.0">807</tspan></text>
<text class="n" transform="translate(1099.69,730.85) rotate(-0.181) scale(0.907,1)">2<tspan class="c" dx="2.0">,</tspan><tspan dx="3.0">685</tspan></text>
<text class="n" transform="translate(1173.49,730.61) rotate(-0.181) scale(0.907,1)">3<tspan class="c" dx="2.0">,</tspan><tspan dx="3.0">652</tspan></text>
<text class="n" transform="translate(1254.29,730.36) rotate(-0.181) scale(0.907,1)">6<tspan class="c" dx="2.0">,</tspan><tspan dx="3.0">337</tspan></text>
</g>
<text class="b" x="161.6" y="768.9" textLength="191.7" lengthAdjust="spacingAndGlyphs">See footnotes at end of table.</text>
</g>
</svg>
</body>
</html>
